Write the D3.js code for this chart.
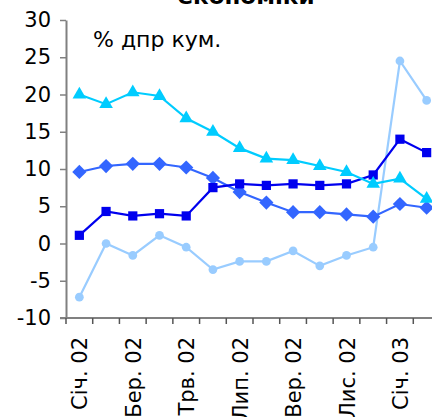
<!DOCTYPE html>
<html>
<head>
<meta charset="utf-8">
<script src="https://cdn.jsdelivr.net/npm/d3@7"></script>
<style>
  body { margin: 0; background: #fff; }
  svg { display: block; font-family: 'DejaVu Sans', Verdana, sans-serif; }
</style>
</head>
<body>
<script>
const months = ['Січ. 02', 'Лют. 02', 'Бер. 02', 'Кві. 02', 'Трв. 02', 'Чер. 02', 'Лип. 02',
  'Сер. 02', 'Вер. 02', 'Жов. 02', 'Лис. 02', 'Гру. 02', 'Січ. 03', 'Лют. 03']
const shownLabels = ['Січ. 02', 'Бер. 02', 'Трв. 02', 'Лип. 02', 'Вер. 02', 'Лис. 02', 'Січ. 03']
const yTicks = [-10, -5, 0, 5, 10, 15, 20, 25, 30]

const triangles = [20.0, 18.7, 20.3, 19.8, 16.8, 15.0, 12.8, 11.4, 11.2, 10.4, 9.6, 8.0, 8.7, 6.0]
const diamonds = [9.6, 10.4, 10.7, 10.7, 10.2, 8.8, 6.9, 5.5, 4.2, 4.2, 3.9, 3.6, 5.3, 4.8]
const squares = [1.1, 4.3, 3.7, 4.0, 3.7, 7.5, 8.0, 7.8, 8.0, 7.8, 8.0, 9.2, 14.0, 12.2]
const circles = [-7.2, 0.0, -1.6, 1.1, -0.5, -3.5, -2.4, -2.4, -1.0, -3.0, -1.6, -0.5, 24.5, 19.2]

const w = 432
const h = 417

const svg = d3.select('body').append('svg').attr('width', w).attr('height', h)

const x = d3.scaleBand().domain(months).range([66, 440])
const y = d3.scaleLinear().domain([-10, 30]).range([318, 20])
const cx = (i) => x(months[i]) + x.bandwidth() / 2

// title, cut off at the top like in the source
svg.append('text')
  .attr('x', 246).attr('y', 4)
  .attr('text-anchor', 'middle')
  .attr('font-size', 23).attr('font-weight', 'bold')
  .text('економіки')

svg.append('text')
  .attr('x', 93).attr('y', 47)
  .attr('font-size', 22)
  .text('% дпр кум.')

// y axis
const yAxis = svg.append('g')
  .attr('transform', 'translate(66,0)')
  .call(d3.axisLeft(y).tickValues(yTicks).tickFormat((d) => String(d))
    .tickSize(6).tickSizeOuter(0).tickPadding(9))
yAxis.select('.domain').attr('stroke', '#808080').attr('stroke-width', 2)
yAxis.selectAll('.tick line').attr('stroke', '#808080').attr('stroke-width', 1.5)
yAxis.selectAll('.tick text').attr('font-size', 21).attr('fill', '#000')
  .attr('font-family', 'DejaVu Sans, sans-serif')

// x axis
const xAxis = svg.append('g').attr('transform', `translate(0,${y(-10)})`)
xAxis.append('line')
  .attr('x1', 60).attr('x2', 440)
  .attr('stroke', '#808080').attr('stroke-width', 2)
xAxis.selectAll('line.tk')
  .data(months)
  .enter()
  .append('line')
  .attr('class', 'tk')
  .attr('x1', (d) => x(d)).attr('x2', (d) => x(d))
  .attr('y1', 0).attr('y2', 6)
  .attr('stroke', '#555').attr('stroke-width', 1.5)
xAxis.selectAll('text')
  .data(shownLabels)
  .enter()
  .append('text')
  .attr('transform', (d) => `translate(${x(d) + x.bandwidth() / 2 + 8},19) rotate(-90)`)
  .attr('text-anchor', 'end')
  .attr('font-size', 21)
  .text((d) => d)

const line = d3.line().x((d, i) => cx(i)).y((d) => y(d))

const drawSeries = (data, color, shape, size, rot) => {
  svg.append('path')
    .datum(data)
    .attr('d', line)
    .attr('fill', 'none')
    .attr('stroke', color)
    .attr('stroke-width', 2.2)
  svg.append('g')
    .selectAll('path')
    .data(data)
    .enter()
    .append('path')
    .attr('d', d3.symbol().type(shape).size(size))
    .attr('transform', (d, i) => `translate(${cx(i)},${y(d)}) rotate(${rot})`)
    .attr('fill', color)
}

drawSeries(circles, '#99CCFF', d3.symbolCircle, 60, 0)
drawSeries(diamonds, '#3366FF', d3.symbolSquare, 101, 45)
drawSeries(squares, '#0000EE', d3.symbolSquare, 85, 0)
drawSeries(triangles, '#00CCFF', d3.symbolTriangle, 80, 0)
</script>
</body>
</html>
